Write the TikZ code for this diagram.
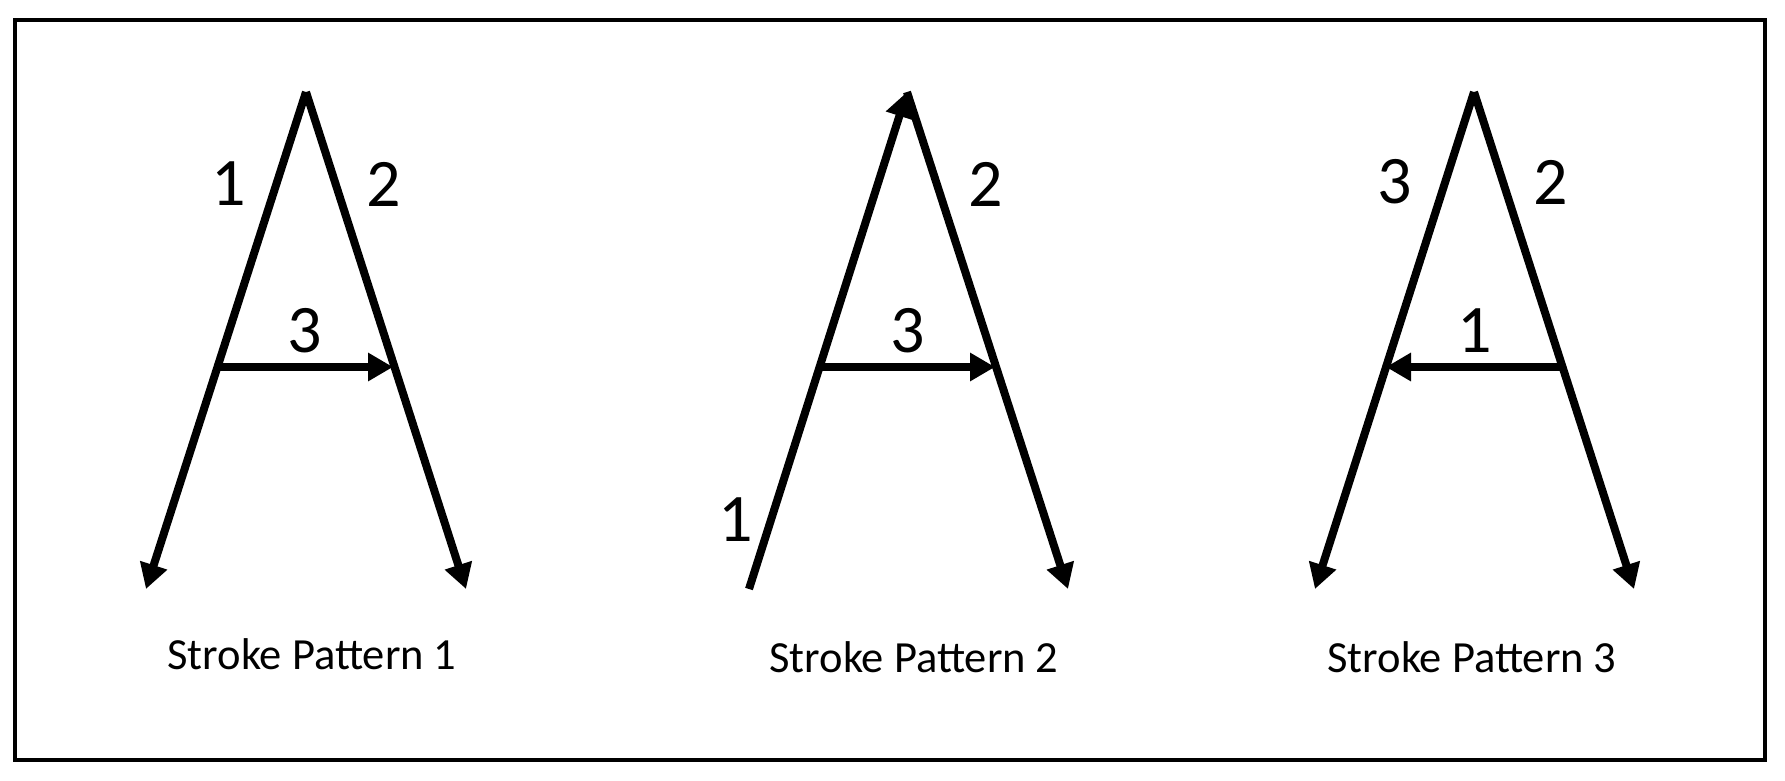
\documentclass[tikz,border=0pt]{standalone}
\usepackage{fontspec}
\setmainfont{Carlito}
\usetikzlibrary{arrows.meta}
\begin{document}
\begin{tikzpicture}[x=1pt,y=-1pt,
  stroke/.style={line width=8pt},
  tipped/.style={stroke,-{Triangle[length=25pt,width=27pt]}},
  num/.style={inner sep=0pt,font=\fontsize{68}{68}\selectfont},
  caption/.style={inner sep=0pt,font=\fontsize{44.5}{44.5}\selectfont}]
\useasboundingbox (0,0) rectangle (1785,780);
\draw[line width=4pt] (15,20) rectangle (1765,760);
% Pattern 1
\coordinate (a1) at (306,92);
\coordinate (l1) at (146,589);
\coordinate (r1) at (466,589);
\coordinate (cl1) at (218,367);
\coordinate (cr1) at (393,367);
\draw[tipped] (a1) -- (l1);
\draw[tipped] (a1) -- (r1);
\draw[tipped] (cl1) -- (cr1);
\node[num] (n11) at (229,184) {1};
\node[num] (n12) at (384,184) {2};
\node[num] (n13) at (305,331) {3};
\node[caption] (c1) at (312,654) {Stroke Pattern 1};
% Pattern 2
\coordinate (a2) at (907,92);
\coordinate (l2) at (749,589);
\coordinate (r2) at (1068,589);
\coordinate (cl2) at (821,367);
\coordinate (cr2) at (995,367);
\draw[tipped] (l2) -- (a2);
\draw[tipped] (a2) -- (r2);
\draw[tipped] (cl2) -- (cr2);
\node[num] (n21) at (736,520) {1};
\node[num] (n22) at (986,184) {2};
\node[num] (n23) at (908,331) {3};
\node[caption] (c2) at (914,657) {Stroke Pattern 2};
% Pattern 3
\coordinate (a3) at (1474,92);
\coordinate (l3) at (1315,589);
\coordinate (r3) at (1634,589);
\coordinate (cl3) at (1386,367);
\coordinate (cr3) at (1563,367);
\draw[tipped] (a3) -- (l3);
\draw[tipped] (a3) -- (r3);
\draw[tipped] (cr3) -- (cl3);
\node[num] (n33) at (1395,182) {3};
\node[num] (n32) at (1551,182) {2};
\node[num] (n31) at (1475,331) {1};
\node[caption] (c3) at (1472,657) {Stroke Pattern 3};
\end{tikzpicture}
\end{document}
